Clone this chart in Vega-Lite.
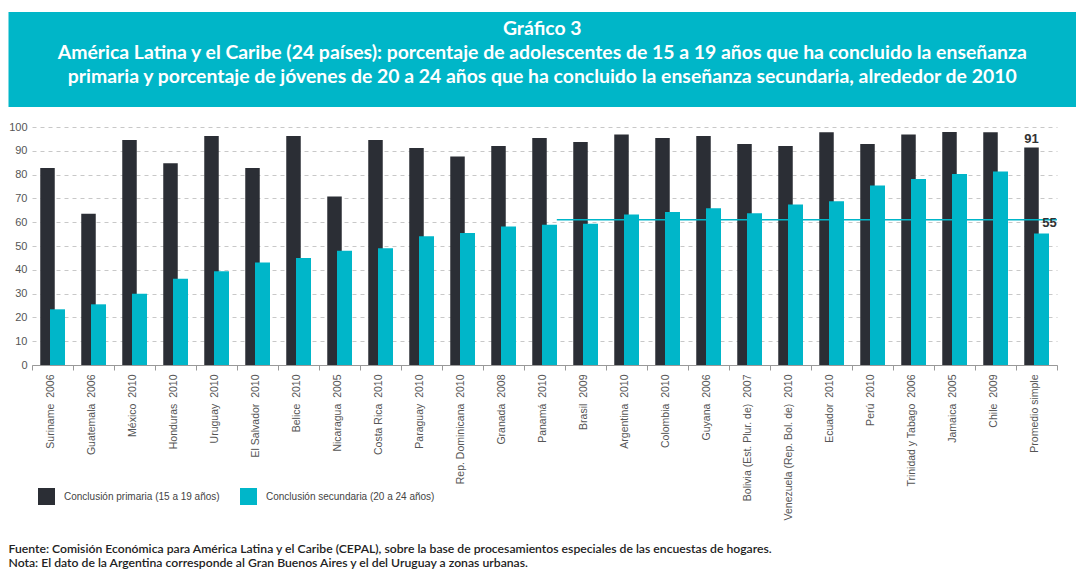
{
  "$schema": "https://vega.github.io/schema/vega-lite/v6.json",
  "background": "white",
  "padding": {"left": 8, "right": 8, "top": 12, "bottom": 0},
  "config": {
    "view": {"stroke": null},
    "font": "Liberation Sans",
    "axisY": {"title": null, "tickCount": 10, "labelOverlap": false, "grid": true, "gridDash": [4, 4], "gridColor": "#c8c8c8", "domain": false, "ticks": false, "labelColor": "#555", "labelFontSize": 11, "labelPadding": 5}
  },
  "title": {
    "text": ["Fuente: Comisión Económica para América Latina y el Caribe (CEPAL), sobre la base de procesamientos especiales de las encuestas de hogares.", "Nota: El dato de la Argentina corresponde al Gran Buenos Aires y el del Uruguay a zonas urbanas."],
    "orient": "bottom", "anchor": "start", "font": "Lato", "fontSize": 12.2, "fontWeight": 600, "color": "#222", "offset": 23, "lineHeight": 14
  },
  "spacing": 14,
  "vconcat": [
    {
      "width": 1044,
      "height": 95,
      "data": {"values": [{"titulo": ["Gráfico 3", "América Latina y el Caribe (24 países): porcentaje de adolescentes de 15 a 19 años que ha concluido la enseñanza", "primaria y porcentaje de jóvenes de 20 a 24 años que ha concluido la enseñanza secundaria, alrededor de 2010"]}]},
      "layer": [
        {
          "mark": {"type": "rect", "color": "#00b6c8", "clip": false},
          "encoding": {
            "x": {"datum": 0, "type": "quantitative", "scale": {"domain": [0, 1], "range": [-23.5, 1044]}, "axis": null},
            "x2": {"datum": 1},
            "y": {"datum": 0, "type": "quantitative", "scale": {"domain": [0, 1]}, "axis": null},
            "y2": {"datum": 1}
          }
        },
        {
          "mark": {"type": "text", "font": "Lato", "fontSize": 19.4, "fontWeight": "bold", "color": "white", "lineHeight": 24, "baseline": "middle", "align": "center", "dy": -31},
          "encoding": {
            "x": {"datum": 0.5, "type": "quantitative"},
            "text": {"field": "titulo", "type": "nominal"}
          }
        }
      ]
    },
    {
      "width": 1025,
      "height": 238,
      "data": {"values": [
        {"pais": "Suriname\u00a0 2006", "primaria": 82.8, "secundaria": 23.4},
        {"pais": "Guatemala\u00a0 2006", "primaria": 63.5, "secundaria": 25.5},
        {"pais": "México\u00a0 2010", "primaria": 94.5, "secundaria": 29.9},
        {"pais": "Honduras\u00a0 2010", "primaria": 84.8, "secundaria": 36.2},
        {"pais": "Uruguay\u00a0 2010", "primaria": 96.2, "secundaria": 39.4},
        {"pais": "El Salvador\u00a0 2010", "primaria": 82.8, "secundaria": 43.1},
        {"pais": "Belice\u00a0 2010", "primaria": 96.2, "secundaria": 45.0},
        {"pais": "Nicaragua\u00a0 2005", "primaria": 70.8, "secundaria": 48.0},
        {"pais": "Costa Rica\u00a0 2010", "primaria": 94.5, "secundaria": 49.1},
        {"pais": "Paraguay\u00a0 2010", "primaria": 91.2, "secundaria": 54.1},
        {"pais": "Rep. Dominicana\u00a0 2010", "primaria": 87.6, "secundaria": 55.5},
        {"pais": "Granada\u00a0 2008", "primaria": 92.0, "secundaria": 58.2},
        {"pais": "Panamá\u00a0 2010", "primaria": 95.4, "secundaria": 58.9},
        {"pais": "Brasil\u00a0 2009", "primaria": 93.7, "secundaria": 59.4},
        {"pais": "Argentina\u00a0 2010", "primaria": 96.9, "secundaria": 63.2},
        {"pais": "Colombia\u00a0 2010", "primaria": 95.4, "secundaria": 64.3},
        {"pais": "Guyana\u00a0 2006", "primaria": 96.2, "secundaria": 65.9},
        {"pais": "Bolivia (Est. Plur. de)\u00a0 2007", "primaria": 92.9, "secundaria": 63.8},
        {"pais": "Venezuela (Rep. Bol. de)\u00a0 2010", "primaria": 92.0, "secundaria": 67.4},
        {"pais": "Ecuador\u00a0 2010", "primaria": 97.8, "secundaria": 68.8},
        {"pais": "Perú\u00a0 2010", "primaria": 92.9, "secundaria": 75.4},
        {"pais": "Trinidad y Tabago\u00a0 2006", "primaria": 96.9, "secundaria": 78.2},
        {"pais": "Jamaica\u00a0 2005", "primaria": 97.9, "secundaria": 80.3},
        {"pais": "Chile\u00a0 2009", "primaria": 97.8, "secundaria": 81.3},
        {"pais": "Promedio simple", "primaria": 91.4, "secundaria": 55.2}
      ]},
      "encoding": {
        "x": {
          "field": "pais", "type": "nominal", "sort": null,
          "scale": {"paddingInner": 0, "paddingOuter": 0},
          "axis": {"title": null, "labelAngle": -90, "labelFontSize": 10.5, "labelColor": "#555", "tickBand": "extent", "tickSize": 5, "tickColor": "#999", "domainColor": "#999", "labelPadding": 4, "labelOffset": -2, "labelLimit": 200}
        }
      },
      "layer": [
        {
          "mark": {"type": "bar", "width": 14.5, "xOffset": -5},
          "encoding": {
            "y": {"field": "primaria", "type": "quantitative", "scale": {"domain": [0, 100]}},
            "color": {
              "datum": "Conclusión primaria (15 a 19 años)",
              "scale": {"domain": ["Conclusión primaria (15 a 19 años)", "Conclusión secundaria (20 a 24 años)"], "range": ["#2b2e35", "#00b6c9"]},
              "legend": {"orient": "none", "legendX": 6, "legendY": 476, "direction": "horizontal", "title": null, "symbolType": "square", "symbolSize": 289, "symbolStrokeWidth": 0, "labelFontSize": 10, "labelColor": "#444", "labelOffset": 9, "columnPadding": 20, "labelLimit": 300}
            }
          }
        },
        {
          "mark": {"type": "bar", "width": 15, "xOffset": 5},
          "encoding": {
            "y": {"field": "secundaria", "type": "quantitative"},
            "color": {"datum": "Conclusión secundaria (20 a 24 años)"}
          }
        },
        {
          "data": {"values": [{"valor": 61, "desde": "Panamá\u00a0 2010", "hasta": "Promedio simple"}]},
          "mark": {"type": "rule", "color": "#00b6c9", "strokeWidth": 1.5},
          "encoding": {
            "x": {"field": "desde", "type": "nominal", "bandPosition": 0.8},
            "x2": {"field": "hasta", "bandPosition": 1},
            "y": {"field": "valor", "type": "quantitative"}
          }
        },
        {
          "transform": [{"filter": "datum.pais == 'Promedio simple'"}],
          "mark": {"type": "text", "fontSize": 13, "fontWeight": "bold", "color": "#333", "baseline": "bottom", "dy": -1, "xOffset": -5},
          "encoding": {
            "y": {"field": "primaria", "type": "quantitative"},
            "text": {"field": "primaria", "type": "quantitative", "format": ".0f"}
          }
        },
        {
          "transform": [{"filter": "datum.pais == 'Promedio simple'"}],
          "mark": {"type": "text", "fontSize": 13, "fontWeight": "bold", "color": "#333", "baseline": "bottom", "dy": -4, "xOffset": 13},
          "encoding": {
            "y": {"field": "secundaria", "type": "quantitative"},
            "text": {"field": "secundaria", "type": "quantitative", "format": ".0f"}
          }
        }
      ]
    }
  ]
}
